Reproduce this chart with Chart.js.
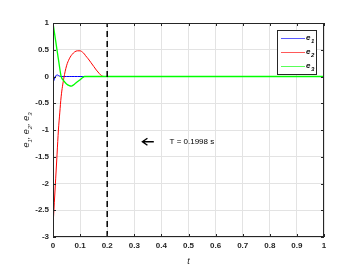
<!DOCTYPE html>
<html>
<head>
<meta charset="utf-8">
<script src="https://cdn.jsdelivr.net/npm/chart.js@4/dist/chart.umd.min.js"></script>
<style>
  html, body { margin: 0; padding: 0; background: #fff; }
  #wrap { width: 344px; height: 267px; }
</style>
</head>
<body>
<div id="wrap"><canvas id="c" width="344" height="267"></canvas></div>
<script>
// error signals
const t  = [0, 0.005, 0.01, 0.015, 0.02, 0.025, 0.03, 0.04, 0.05, 0.06, 0.067, 0.07, 0.08, 0.09, 0.1, 0.11, 0.116, 0.12, 0.13, 0.14, 0.15, 0.16, 0.17, 0.18, 0.19, 0.2, 1];
const e1 = [-0.12, -0.05, 0.01, 0.03, 0.02, 0.005, 0, 0, 0, 0, 0, 0, 0, 0, 0, 0, 0, 0, 0, 0, 0, 0, 0, 0, 0, 0, 0];
const e2 = [-2.8, -2.35, -1.9, -1.45, -1.0, -0.68, -0.38, -0.03, 0.2, 0.33, 0.39, 0.41, 0.46, 0.48, 0.48, 0.45, 0.42, 0.39, 0.33, 0.26, 0.19, 0.12, 0.06, 0.01, 0, 0, 0];
const e3 = [1, 0.83, 0.66, 0.49, 0.32, 0.15, 0, -0.08, -0.14, -0.17, -0.18, -0.175, -0.14, -0.1, -0.06, -0.02, 0, 0, 0, 0, 0, 0, 0, 0, 0, 0, 0];
const seriesNames = ['e1', 'e2', 'e3'];
const seriesColors = ['#0000ff', '#ff0000', '#00ff00'];
const T_settle = 0.2;
const annotText = 'T = 0.1998 s';

const FONT = '"Liberation Sans", Arial, sans-serif';
const toPts = ys => t.map((x, i) => ({ x: x, y: ys[i] }));
const fmt = v => String(+v.toFixed(2));

// draws axes box with inward ticks, legend, labels and the arrow note
const decor = {
  id: 'decor',
  afterDraw(chart) {
    const ctx = chart.ctx, a = chart.chartArea;
    const xs = chart.scales.x, ys = chart.scales.y;
    ctx.save();
    ctx.strokeStyle = '#262626';
    ctx.lineWidth = 1;
    ctx.strokeRect(a.left + 0.5, a.top + 0.5, a.right - a.left - 1, a.bottom - a.top - 1);
    ctx.beginPath();
    xs.ticks.forEach(tk => {
      const px = Math.round(xs.getPixelForValue(tk.value)) + 0.5;
      ctx.moveTo(px, a.bottom); ctx.lineTo(px, a.bottom - 3);
      ctx.moveTo(px, a.top); ctx.lineTo(px, a.top + 3);
    });
    ys.ticks.forEach(tk => {
      const py = Math.round(ys.getPixelForValue(tk.value)) + 0.5;
      ctx.moveTo(a.left, py); ctx.lineTo(a.left + 3, py);
      ctx.moveTo(a.right, py); ctx.lineTo(a.right - 3, py);
    });
    ctx.stroke();

    // legend
    const lx = 277, ly = 30, lw = 39, lh = 44;
    ctx.fillStyle = '#fff';
    ctx.fillRect(lx, ly, lw, lh);
    ctx.strokeStyle = '#262626';
    ctx.strokeRect(lx + 0.5, ly + 0.5, lw, lh);
    seriesNames.forEach((n, i) => {
      const yy = ly + 8 + i * 14;
      ctx.strokeStyle = seriesColors[i];
      ctx.globalAlpha = 0.65;
      ctx.lineWidth = 1;
      ctx.beginPath(); ctx.moveTo(lx + 4, yy + 0.5); ctx.lineTo(lx + 28, yy + 0.5); ctx.stroke();
      ctx.globalAlpha = 1;
      ctx.fillStyle = '#000';
      ctx.textBaseline = 'alphabetic';
      ctx.textAlign = 'left';
      ctx.font = 'italic bold 8px ' + FONT;
      ctx.fillText(n[0], lx + 29, yy + 2);
      ctx.font = 'italic bold 6px ' + FONT;
      ctx.fillText(n.slice(1), lx + 34, yy + 5);
    });

    // y label with subscripts
    ctx.save();
    ctx.translate(29, (a.top + a.bottom) / 2);
    ctx.rotate(-Math.PI / 2);
    const parts = [];
    seriesNames.forEach((n, i) => {
      parts.push([n[0], 'italic 9px ', 0]);
      parts.push([n.slice(1), 'italic 6px ', 3]);
      if (i < seriesNames.length - 1) parts.push([', ', 'italic 9px ', 0]);
    });
    let w = 0;
    parts.forEach(p => { ctx.font = p[1] + FONT; w += ctx.measureText(p[0]).width; });
    let cx = -w / 2;
    ctx.fillStyle = '#262626';
    ctx.textAlign = 'left';
    parts.forEach(p => { ctx.font = p[1] + FONT; ctx.fillText(p[0], cx, p[2]); cx += ctx.measureText(p[0]).width; });
    ctx.restore();

    // arrow and note
    const ay = ys.getPixelForValue(-1.22);
    const ax0 = xs.getPixelForValue(0.33), ax1 = xs.getPixelForValue(0.372);
    ctx.strokeStyle = '#000';
    ctx.lineWidth = 1.4;
    ctx.beginPath();
    ctx.moveTo(ax0, ay); ctx.lineTo(ax1, ay);
    ctx.moveTo(ax0 + 5, ay - 3.5); ctx.lineTo(ax0, ay); ctx.lineTo(ax0 + 5, ay + 3.5);
    ctx.stroke();
    ctx.fillStyle = '#000';
    ctx.font = '8px ' + FONT;
    ctx.textBaseline = 'middle';
    ctx.fillText(annotText, xs.getPixelForValue(0.43), ay);
    ctx.restore();
  }
};

new Chart(document.getElementById('c'), {
  type: 'line',
  data: {
    datasets: [
      { label: seriesNames[0], data: toPts(e1), borderColor: seriesColors[0], borderWidth: 1, pointRadius: 0, cubicInterpolationMode: 'monotone', order: 3 },
      { label: seriesNames[1], data: toPts(e2), borderColor: seriesColors[1], borderWidth: 1, pointRadius: 0, cubicInterpolationMode: 'monotone', order: 2 },
      { label: seriesNames[2], data: toPts(e3), borderColor: seriesColors[2], borderWidth: 1.3, pointRadius: 0, cubicInterpolationMode: 'monotone', order: 1 },
      { label: 'T', data: [{ x: T_settle, y: -3 }, { x: T_settle, y: 1 }], borderColor: '#000', borderWidth: 1.5, borderDash: [6, 4], pointRadius: 0, order: 0 }
    ]
  },
  options: {
    responsive: false,
    animation: false,
    layout: { padding: { left: 0, right: 20, top: 23, bottom: 0 } },
    plugins: { legend: { display: false }, tooltip: { enabled: false } },
    scales: {
      x: {
        type: 'linear', min: 0, max: 1,
        ticks: { stepSize: 0.1, color: '#262626', font: { family: FONT, size: 8, weight: 'bold' }, padding: 4, maxRotation: 0, callback: fmt },
        grid: { color: '#e3e3e3', drawTicks: false },
        border: { display: false },
        title: { display: true, text: 't', color: '#262626', font: { family: FONT, size: 9, style: 'italic' }, padding: { top: 1, bottom: 0 } },
        afterFit(s) { s.height = 30; }
      },
      y: {
        min: -3, max: 1,
        ticks: { stepSize: 0.5, color: '#262626', font: { family: FONT, size: 8, weight: 'bold' }, padding: 4, callback: fmt },
        grid: { color: '#e3e3e3', drawTicks: false },
        border: { display: false },
        afterFit(s) { s.width = 53; }
      }
    }
  },
  plugins: [decor]
});
</script>
</body>
</html>
